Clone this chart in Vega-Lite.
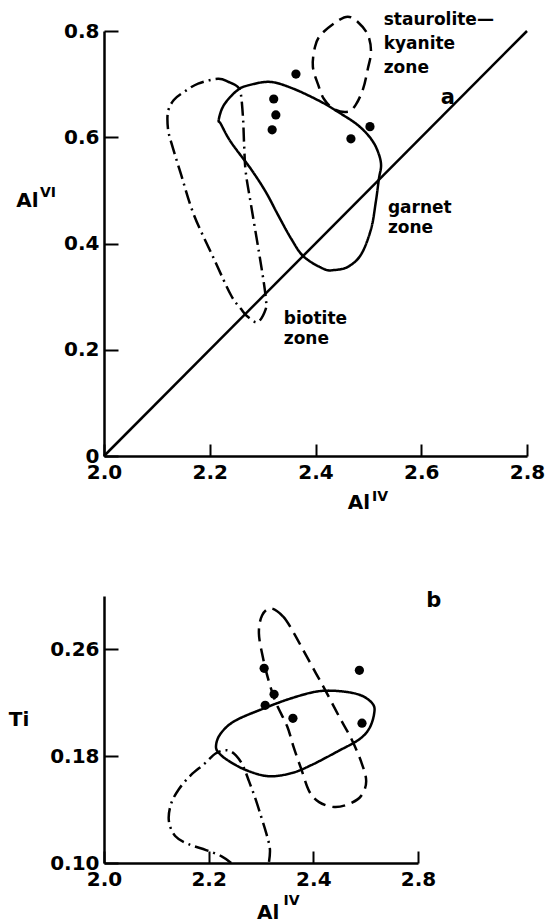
{
  "$schema": "https://vega.github.io/schema/vega-lite/v6.json",
  "background": "white",
  "padding": {"left": 8, "top": 10, "right": 5, "bottom": 0},
  "spacing": 75,
  "config": {
    "view": {"stroke": null},
    "font": "DejaVu Sans",
    "axis": {
      "grid": false, "domainColor": "black", "domainWidth": 2.5, "tickColor": "black", "tickWidth": 2,
      "labelColor": "black", "labelFont": "DejaVu Sans", "labelFontWeight": "bold", "labelFontSize": 20,
      "labelOverlap": false, "labelFlush": false, "labelBound": false
    },
    "text": {"font": "DejaVu Sans", "fontWeight": "bold", "color": "black", "align": "left", "baseline": "alphabetic"}
  },
  "datasets": {
    "contA": [
      {"zone":"garnet","ord":1,"x":2.217,"y":0.633},{"zone":"garnet","ord":2,"x":2.227,"y":0.661},{"zone":"garnet","ord":3,"x":2.253,"y":0.689},{"zone":"garnet","ord":4,"x":2.278,"y":0.699},{"zone":"garnet","ord":5,"x":2.316,"y":0.704},{"zone":"garnet","ord":6,"x":2.359,"y":0.691},{"zone":"garnet","ord":7,"x":2.41,"y":0.667},{"zone":"garnet","ord":8,"x":2.442,"y":0.648},{"zone":"garnet","ord":9,"x":2.48,"y":0.623},{"zone":"garnet","ord":10,"x":2.505,"y":0.597},{"zone":"garnet","ord":11,"x":2.518,"y":0.573},{"zone":"garnet","ord":12,"x":2.524,"y":0.548},{"zone":"garnet","ord":13,"x":2.52,"y":0.522},{"zone":"garnet","ord":14,"x":2.514,"y":0.478},{"zone":"garnet","ord":15,"x":2.505,"y":0.427},{"zone":"garnet","ord":16,"x":2.486,"y":0.379},{"zone":"garnet","ord":17,"x":2.461,"y":0.356},{"zone":"garnet","ord":18,"x":2.435,"y":0.35},{"zone":"garnet","ord":19,"x":2.416,"y":0.352},{"zone":"garnet","ord":20,"x":2.378,"y":0.375},{"zone":"garnet","ord":21,"x":2.354,"y":0.409},{"zone":"garnet","ord":22,"x":2.329,"y":0.454},{"zone":"garnet","ord":23,"x":2.306,"y":0.497},{"zone":"garnet","ord":24,"x":2.278,"y":0.54},{"zone":"garnet","ord":25,"x":2.24,"y":0.591},{"zone":"garnet","ord":26,"x":2.221,"y":0.625},
      {"zone":"staurolite","ord":1,"x":2.461,"y":0.827},{"zone":"staurolite","ord":2,"x":2.48,"y":0.817},{"zone":"staurolite","ord":3,"x":2.499,"y":0.793},{"zone":"staurolite","ord":4,"x":2.505,"y":0.761},{"zone":"staurolite","ord":5,"x":2.499,"y":0.729},{"zone":"staurolite","ord":6,"x":2.49,"y":0.691},{"zone":"staurolite","ord":7,"x":2.476,"y":0.661},{"zone":"staurolite","ord":8,"x":2.461,"y":0.648},{"zone":"staurolite","ord":9,"x":2.435,"y":0.653},{"zone":"staurolite","ord":10,"x":2.416,"y":0.672},{"zone":"staurolite","ord":11,"x":2.405,"y":0.699},{"zone":"staurolite","ord":12,"x":2.395,"y":0.733},{"zone":"staurolite","ord":13,"x":2.399,"y":0.77},{"zone":"staurolite","ord":14,"x":2.41,"y":0.793},{"zone":"staurolite","ord":15,"x":2.439,"y":0.817},
      {"zone":"biotite","ord":1,"x":2.2155,"y":0.71},{"zone":"biotite","ord":2,"x":2.236,"y":0.704},{"zone":"biotite","ord":3,"x":2.253,"y":0.695},{"zone":"biotite","ord":4,"x":2.259,"y":0.68},{"zone":"biotite","ord":5,"x":2.263,"y":0.635},{"zone":"biotite","ord":6,"x":2.265,"y":0.586},{"zone":"biotite","ord":7,"x":2.268,"y":0.535},{"zone":"biotite","ord":8,"x":2.278,"y":0.473},{"zone":"biotite","ord":9,"x":2.293,"y":0.384},{"zone":"biotite","ord":10,"x":2.302,"y":0.328},{"zone":"biotite","ord":11,"x":2.306,"y":0.296},{"zone":"biotite","ord":12,"x":2.306,"y":0.277},{"zone":"biotite","ord":13,"x":2.291,"y":0.252},{"zone":"biotite","ord":14,"x":2.272,"y":0.262},{"zone":"biotite","ord":15,"x":2.259,"y":0.277},{"zone":"biotite","ord":16,"x":2.24,"y":0.303},{"zone":"biotite","ord":17,"x":2.208,"y":0.371},{"zone":"biotite","ord":18,"x":2.17,"y":0.454},{"zone":"biotite","ord":19,"x":2.146,"y":0.529},{"zone":"biotite","ord":20,"x":2.127,"y":0.591},{"zone":"biotite","ord":21,"x":2.121,"y":0.616},{"zone":"biotite","ord":22,"x":2.121,"y":0.648},{"zone":"biotite","ord":23,"x":2.132,"y":0.67},{"zone":"biotite","ord":24,"x":2.151,"y":0.685},{"zone":"biotite","ord":25,"x":2.178,"y":0.701}
    ],
    "diagA": [{"x":2.0,"y":0.0},{"x":2.8,"y":0.8}],
    "ptsA": [{"x":2.321,"y":0.672},{"x":2.325,"y":0.642},{"x":2.318,"y":0.614},{"x":2.363,"y":0.719},{"x":2.503,"y":0.62},{"x":2.467,"y":0.597}],
    "labA": [
      {"label":"staurolite—","x":2.529,"y":0.812},{"label":"kyanite","x":2.529,"y":0.766},{"label":"zone","x":2.529,"y":0.721},
      {"label":"garnet","x":2.537,"y":0.458},{"label":"zone","x":2.537,"y":0.419},
      {"label":"biotite","x":2.34,"y":0.249},{"label":"zone","x":2.34,"y":0.211}
    ],
    "titleA": [{"label":"Al","x":2.461,"y":-0.0998},{"label":"Al","x":1.834,"y":0.469}],
    "supA": [{"label":"IV","x":2.507,"y":-0.0847},{"label":"VI","x":1.879,"y":0.488}],
    "letterA": [{"label":"a","x":2.637,"y":0.663}],
    "contB": [
      {"zone":"garnet","ord":1,"x":2.214,"y":0.1875},{"zone":"garnet","ord":2,"x":2.222,"y":0.1964},{"zone":"garnet","ord":3,"x":2.249,"y":0.2062},{"zone":"garnet","ord":4,"x":2.306,"y":0.2159},{"zone":"garnet","ord":5,"x":2.358,"y":0.2234},{"zone":"garnet","ord":6,"x":2.409,"y":0.2286},{"zone":"garnet","ord":7,"x":2.453,"y":0.2286},{"zone":"garnet","ord":8,"x":2.491,"y":0.2256},{"zone":"garnet","ord":9,"x":2.514,"y":0.2189},{"zone":"garnet","ord":10,"x":2.516,"y":0.2114},{"zone":"garnet","ord":11,"x":2.507,"y":0.2009},{"zone":"garnet","ord":12,"x":2.488,"y":0.1927},{"zone":"garnet","ord":13,"x":2.447,"y":0.1837},{"zone":"garnet","ord":14,"x":2.396,"y":0.1733},{"zone":"garnet","ord":15,"x":2.358,"y":0.1673},{"zone":"garnet","ord":16,"x":2.314,"y":0.165},{"zone":"garnet","ord":17,"x":2.272,"y":0.1695},{"zone":"garnet","ord":18,"x":2.239,"y":0.1763},{"zone":"garnet","ord":19,"x":2.22,"y":0.1822},
      {"zone":"staurolite","ord":1,"x":2.319,"y":0.2907},{"zone":"staurolite","ord":2,"x":2.342,"y":0.2847},{"zone":"staurolite","ord":3,"x":2.361,"y":0.2735},{"zone":"staurolite","ord":4,"x":2.382,"y":0.2585},{"zone":"staurolite","ord":5,"x":2.405,"y":0.2421},{"zone":"staurolite","ord":6,"x":2.424,"y":0.2286},{"zone":"staurolite","ord":7,"x":2.449,"y":0.2099},{"zone":"staurolite","ord":8,"x":2.472,"y":0.1935},{"zone":"staurolite","ord":9,"x":2.491,"y":0.1763},{"zone":"staurolite","ord":10,"x":2.501,"y":0.1613},{"zone":"staurolite","ord":11,"x":2.491,"y":0.1501},{"zone":"staurolite","ord":12,"x":2.467,"y":0.1441},{"zone":"staurolite","ord":13,"x":2.44,"y":0.1419},{"zone":"staurolite","ord":14,"x":2.411,"y":0.1456},{"zone":"staurolite","ord":15,"x":2.392,"y":0.1538},{"zone":"staurolite","ord":16,"x":2.377,"y":0.1703},{"zone":"staurolite","ord":17,"x":2.363,"y":0.186},{"zone":"staurolite","ord":18,"x":2.35,"y":0.2024},{"zone":"staurolite","ord":19,"x":2.329,"y":0.2196},{"zone":"staurolite","ord":20,"x":2.315,"y":0.2361},{"zone":"staurolite","ord":21,"x":2.304,"y":0.2533},{"zone":"staurolite","ord":22,"x":2.296,"y":0.272},{"zone":"staurolite","ord":23,"x":2.302,"y":0.2854}
    ],
    "openB": [
      {"zone":"biotite","ord":1,"x":2.243,"y":0.1},{"zone":"biotite","ord":2,"x":2.224,"y":0.1052},{"zone":"biotite","ord":3,"x":2.195,"y":0.1097},{"zone":"biotite","ord":4,"x":2.161,"y":0.1142},{"zone":"biotite","ord":5,"x":2.136,"y":0.1202},{"zone":"biotite","ord":6,"x":2.124,"y":0.1314},{"zone":"biotite","ord":7,"x":2.128,"y":0.1441},{"zone":"biotite","ord":8,"x":2.143,"y":0.1553},{"zone":"biotite","ord":9,"x":2.166,"y":0.1658},{"zone":"biotite","ord":10,"x":2.191,"y":0.174},{"zone":"biotite","ord":11,"x":2.214,"y":0.1822},{"zone":"biotite","ord":12,"x":2.235,"y":0.1845},{"zone":"biotite","ord":13,"x":2.252,"y":0.1807},{"zone":"biotite","ord":14,"x":2.266,"y":0.1725},{"zone":"biotite","ord":15,"x":2.277,"y":0.1613},{"zone":"biotite","ord":16,"x":2.289,"y":0.1486},{"zone":"biotite","ord":17,"x":2.3,"y":0.1351},{"zone":"biotite","ord":18,"x":2.31,"y":0.1224},{"zone":"biotite","ord":19,"x":2.317,"y":0.1105},{"zone":"biotite","ord":20,"x":2.315,"y":0.1}
    ],
    "ptsB": [{"x":2.306,"y":0.2458},{"x":2.325,"y":0.2264},{"x":2.308,"y":0.2181},{"x":2.361,"y":0.2084},{"x":2.488,"y":0.2443},{"x":2.493,"y":0.2047}],
    "titleB": [{"label":"Al","x":2.2925,"y":0.0581},{"label":"Ti","x":1.818,"y":0.2024}],
    "supB": [{"label":"IV","x":2.343,"y":0.0686}],
    "letterB": [{"label":"b","x":2.616,"y":0.292}]
  },
  "vconcat": [
    {
      "width": 423, "height": 425,
      "layer": [
        {
          "data": {"name": "contA"},
          "mark": {"type": "line", "interpolate": "cardinal-closed", "strokeWidth": 2.5, "color": "black"},
          "encoding": {
            "x": {"field": "x", "type": "quantitative", "title": null,
                  "scale": {"domain": [2.0, 2.8], "nice": false, "zero": false},
                  "axis": {"values": [2.0, 2.2, 2.4, 2.6, 2.8], "format": ".1f", "tickSize": -12, "labelPadding": 18}},
            "y": {"field": "y", "type": "quantitative", "title": null,
                  "scale": {"domain": [0, 0.8], "nice": false},
                  "axis": {"values": [0, 0.2, 0.4, 0.6, 0.8], "labelExpr": "datum.value == 0 ? '0' : format(datum.value, '.1f')", "tickSize": -14, "labelPadding": 19}},
            "strokeDash": {"field": "zone", "type": "nominal", "legend": null,
                  "scale": {"domain": ["garnet", "staurolite", "biotite"], "range": [[1, 0], [13, 7], [14, 5, 2, 5]]}},
            "order": {"field": "ord", "type": "quantitative"}
          }
        },
        {
          "data": {"name": "diagA"},
          "mark": {"type": "line", "strokeWidth": 2.5, "color": "black"},
          "encoding": {"x": {"field": "x", "type": "quantitative", "title": null}, "y": {"field": "y", "type": "quantitative", "title": null}}
        },
        {
          "data": {"name": "ptsA"},
          "mark": {"type": "circle", "size": 85, "color": "black", "opacity": 1},
          "encoding": {"x": {"field": "x", "type": "quantitative", "title": null}, "y": {"field": "y", "type": "quantitative", "title": null}}
        },
        {
          "data": {"name": "labA"},
          "mark": {"type": "text", "fontSize": 17},
          "encoding": {"x": {"field": "x", "type": "quantitative", "title": null}, "y": {"field": "y", "type": "quantitative", "title": null}, "text": {"field": "label"}}
        },
        {
          "data": {"name": "titleA"},
          "mark": {"type": "text", "fontSize": 20},
          "encoding": {"x": {"field": "x", "type": "quantitative", "title": null}, "y": {"field": "y", "type": "quantitative", "title": null}, "text": {"field": "label"}}
        },
        {
          "data": {"name": "supA"},
          "mark": {"type": "text", "fontSize": 14},
          "encoding": {"x": {"field": "x", "type": "quantitative", "title": null}, "y": {"field": "y", "type": "quantitative", "title": null}, "text": {"field": "label"}}
        },
        {
          "data": {"name": "letterA"},
          "mark": {"type": "text", "fontSize": 21},
          "encoding": {"x": {"field": "x", "type": "quantitative", "title": null}, "y": {"field": "y", "type": "quantitative", "title": null}, "text": {"field": "label"}}
        }
      ]
    },
    {
      "width": 314, "height": 267,
      "layer": [
        {
          "data": {"name": "contB"},
          "mark": {"type": "line", "interpolate": "cardinal-closed", "strokeWidth": 2.5, "color": "black"},
          "encoding": {
            "x": {"field": "x", "type": "quantitative", "title": null,
                  "scale": {"domain": [2.0, 2.6], "nice": false, "zero": false},
                  "axis": {"values": [2.0, 2.2, 2.4, 2.6], "labelExpr": "datum.value > 2.55 ? '2.8' : format(datum.value, '.1f')", "tickSize": -12, "labelPadding": 18}},
            "y": {"field": "y", "type": "quantitative", "title": null,
                  "scale": {"domain": [0.1, 0.3], "nice": false, "zero": false},
                  "axis": {"values": [0.1, 0.18, 0.26], "format": ".2f", "tickSize": -14, "labelPadding": 19}},
            "strokeDash": {"field": "zone", "type": "nominal", "legend": null,
                  "scale": {"domain": ["garnet", "staurolite", "biotite"], "range": [[1, 0], [13, 7], [14, 5, 2, 5]]}},
            "order": {"field": "ord", "type": "quantitative"}
          }
        },
        {
          "data": {"name": "openB"},
          "mark": {"type": "line", "interpolate": "cardinal", "strokeWidth": 2.5, "color": "black", "strokeDash": [14, 5, 2, 5]},
          "encoding": {"x": {"field": "x", "type": "quantitative", "title": null}, "y": {"field": "y", "type": "quantitative", "title": null}, "order": {"field": "ord", "type": "quantitative"}}
        },
        {
          "data": {"name": "ptsB"},
          "mark": {"type": "circle", "size": 85, "color": "black", "opacity": 1},
          "encoding": {"x": {"field": "x", "type": "quantitative", "title": null}, "y": {"field": "y", "type": "quantitative", "title": null}}
        },
        {
          "data": {"name": "titleB"},
          "mark": {"type": "text", "fontSize": 20},
          "encoding": {"x": {"field": "x", "type": "quantitative", "title": null}, "y": {"field": "y", "type": "quantitative", "title": null}, "text": {"field": "label"}}
        },
        {
          "data": {"name": "supB"},
          "mark": {"type": "text", "fontSize": 14},
          "encoding": {"x": {"field": "x", "type": "quantitative", "title": null}, "y": {"field": "y", "type": "quantitative", "title": null}, "text": {"field": "label"}}
        },
        {
          "data": {"name": "letterB"},
          "mark": {"type": "text", "fontSize": 21},
          "encoding": {"x": {"field": "x", "type": "quantitative", "title": null}, "y": {"field": "y", "type": "quantitative", "title": null}, "text": {"field": "label"}}
        }
      ]
    }
  ]
}
